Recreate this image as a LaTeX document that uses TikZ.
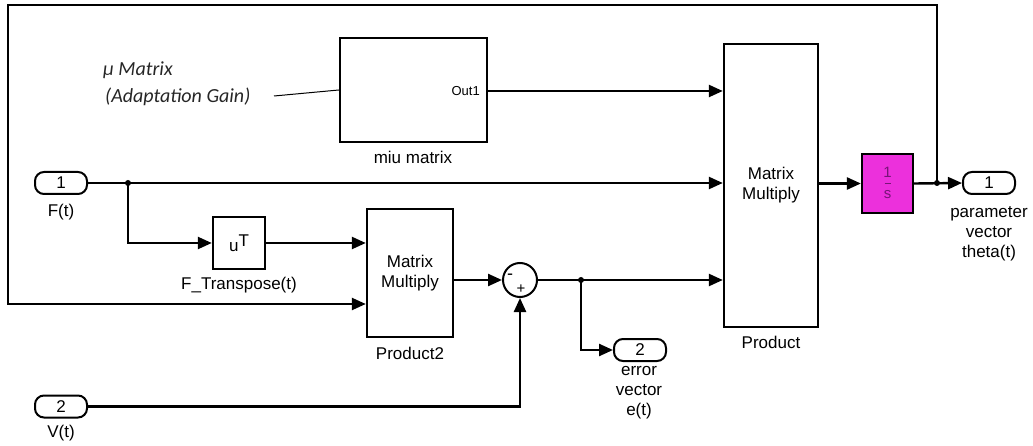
\documentclass[tikz,border=0pt]{standalone}
\usepackage{fontspec}
\setmainfont{Liberation Sans}
\newfontfamily\annfont{Carlito}
\usetikzlibrary{arrows.meta}
\definecolor{mag}{RGB}{236,48,220}
\definecolor{magtext}{RGB}{120,20,120}
\begin{document}
\begin{tikzpicture}[x=1pt,y=-1pt,
  wire/.style={line width=2.4pt},
  sig/.style={wire,-{Triangle[length=14pt,width=12pt]}},
  blk/.style={draw,line width=2.4pt,inner sep=0pt,font=\fontsize{17}{20}\selectfont,align=center},
  port/.style={draw,line width=2pt,rounded corners=9pt,minimum width=52pt,minimum height=22pt,inner sep=0pt,font=\fontsize{17}{20}\selectfont},
  lbl/.style={font=\fontsize{17}{20}\selectfont,align=center,inner sep=0pt},
  ann/.style={font=\annfont\itshape\fontsize{20}{24}\selectfont,text=black!85,anchor=west,inner sep=0pt},
  dot/.style={circle,fill,inner sep=0pt,minimum size=6pt},
  itxt/.style={font=\fontsize{15}{15}\selectfont,text=magtext,inner sep=0pt}
]
\useasboundingbox (0,0) rectangle (1033,446);

% blocks
\node[blk,minimum width=147pt,minimum height=104pt] (miu) at (413.5,90) {};
\node[font=\fontsize{13}{15}\selectfont,anchor=east,inner sep=0pt] (out1txt) at (480,91) {Out1};
\node[blk,minimum width=52pt,minimum height=52pt] (tr) at (239,243) {u\raisebox{0.55ex}{T}};
\node[blk,minimum width=86pt,minimum height=128pt] (p2) at (410,273) {Matrix\\Multiply};
\node[draw,circle,line width=2pt,minimum size=34pt,inner sep=0pt] (sum) at (520,280) {};
\node[font=\fontsize{18}{18}\selectfont,inner sep=0pt] (minus) at (510,277) {-};
\node[font=\fontsize{15}{15}\selectfont,inner sep=0pt] (plus) at (521,289) {+};
\node[blk,minimum width=94pt,minimum height=283pt] (prod) at (771,185.5) {Matrix\\Multiply};
\node[draw,fill=mag,line width=2.2pt,minimum width=51pt,minimum height=59pt,inner sep=0pt] (integ) at (887.5,183.5) {};
\node[itxt] (ione) at (887.5,172) {1};
\node[itxt] (is) at (887.5,195) {s};
\draw[magtext,line width=1pt] (884.5,183.5) -- (890.5,183.5);

% ports
\node[port] (in1) at (61,183) {1};
\node[port] (in2) at (61,406.5) {2};
\node[port] (out2) at (640,350) {2};
\node[port] (out1) at (989,183) {1};

% labels
\node[lbl] (lmiu) at (413,157) {miu matrix};
\node[lbl] (ltr) at (239,285) {F\_Transpose(t)};
\node[lbl] (lp2) at (410,353) {Product2};
\node[lbl] (lprod) at (771,342) {Product};
\node[lbl] (lF) at (61,212) {F(t)};
\node[lbl] (lV) at (61,433) {V(t)};
\node[lbl] (lerr) at (639,393) {error\\vector\\e(t)};
\node[lbl] (lpar) at (989,234) {parameter\\vector\\theta(t)};

% annotation
\node[ann] (ann1) at (103,70) {µ Matrix};
\node[ann] (ann2) at (105,97) {(Adaptation Gain)};
\coordinate (annEnd) at (274,96);
\draw[line width=1pt] (annEnd) -- (miu.west |- 0,90);

% junctions
\coordinate (j1) at (128,183);
\coordinate (j2) at (581,280);
\coordinate (j3) at (937,183);
\node[dot] (dj1) at (j1) {};
\node[dot] (dj2) at (j2) {};
\node[dot] (dj3) at (j3) {};
\coordinate (topR) at (937,5);
\coordinate (topL) at (8,5);
\coordinate (botL) at (8,304);

% connectors
\draw[sig] (miu.east |- 0,91) -- (prod.west |- 0,91);
\draw[sig] (in1.east) -- (prod.west |- in1);
\draw[sig] (j1) |- (tr.west);
\draw[sig] (tr.east) -- (p2.west |- tr);
\draw[sig] (j3) -- (topR) -- (topL) -- (botL) -- (p2.west |- botL);
\draw[sig] (p2.east |- sum) -- (sum.west);
\draw[sig] (in2.east) -| (sum.south);
\draw[sig] (sum.east) -- (prod.west |- sum);
\draw[sig] (j2) |- (out2.west);
\draw[sig] (prod.east |- integ) -- (integ.west);
\draw[sig] (integ.east) -- (out1.west);
\end{tikzpicture}
\end{document}
